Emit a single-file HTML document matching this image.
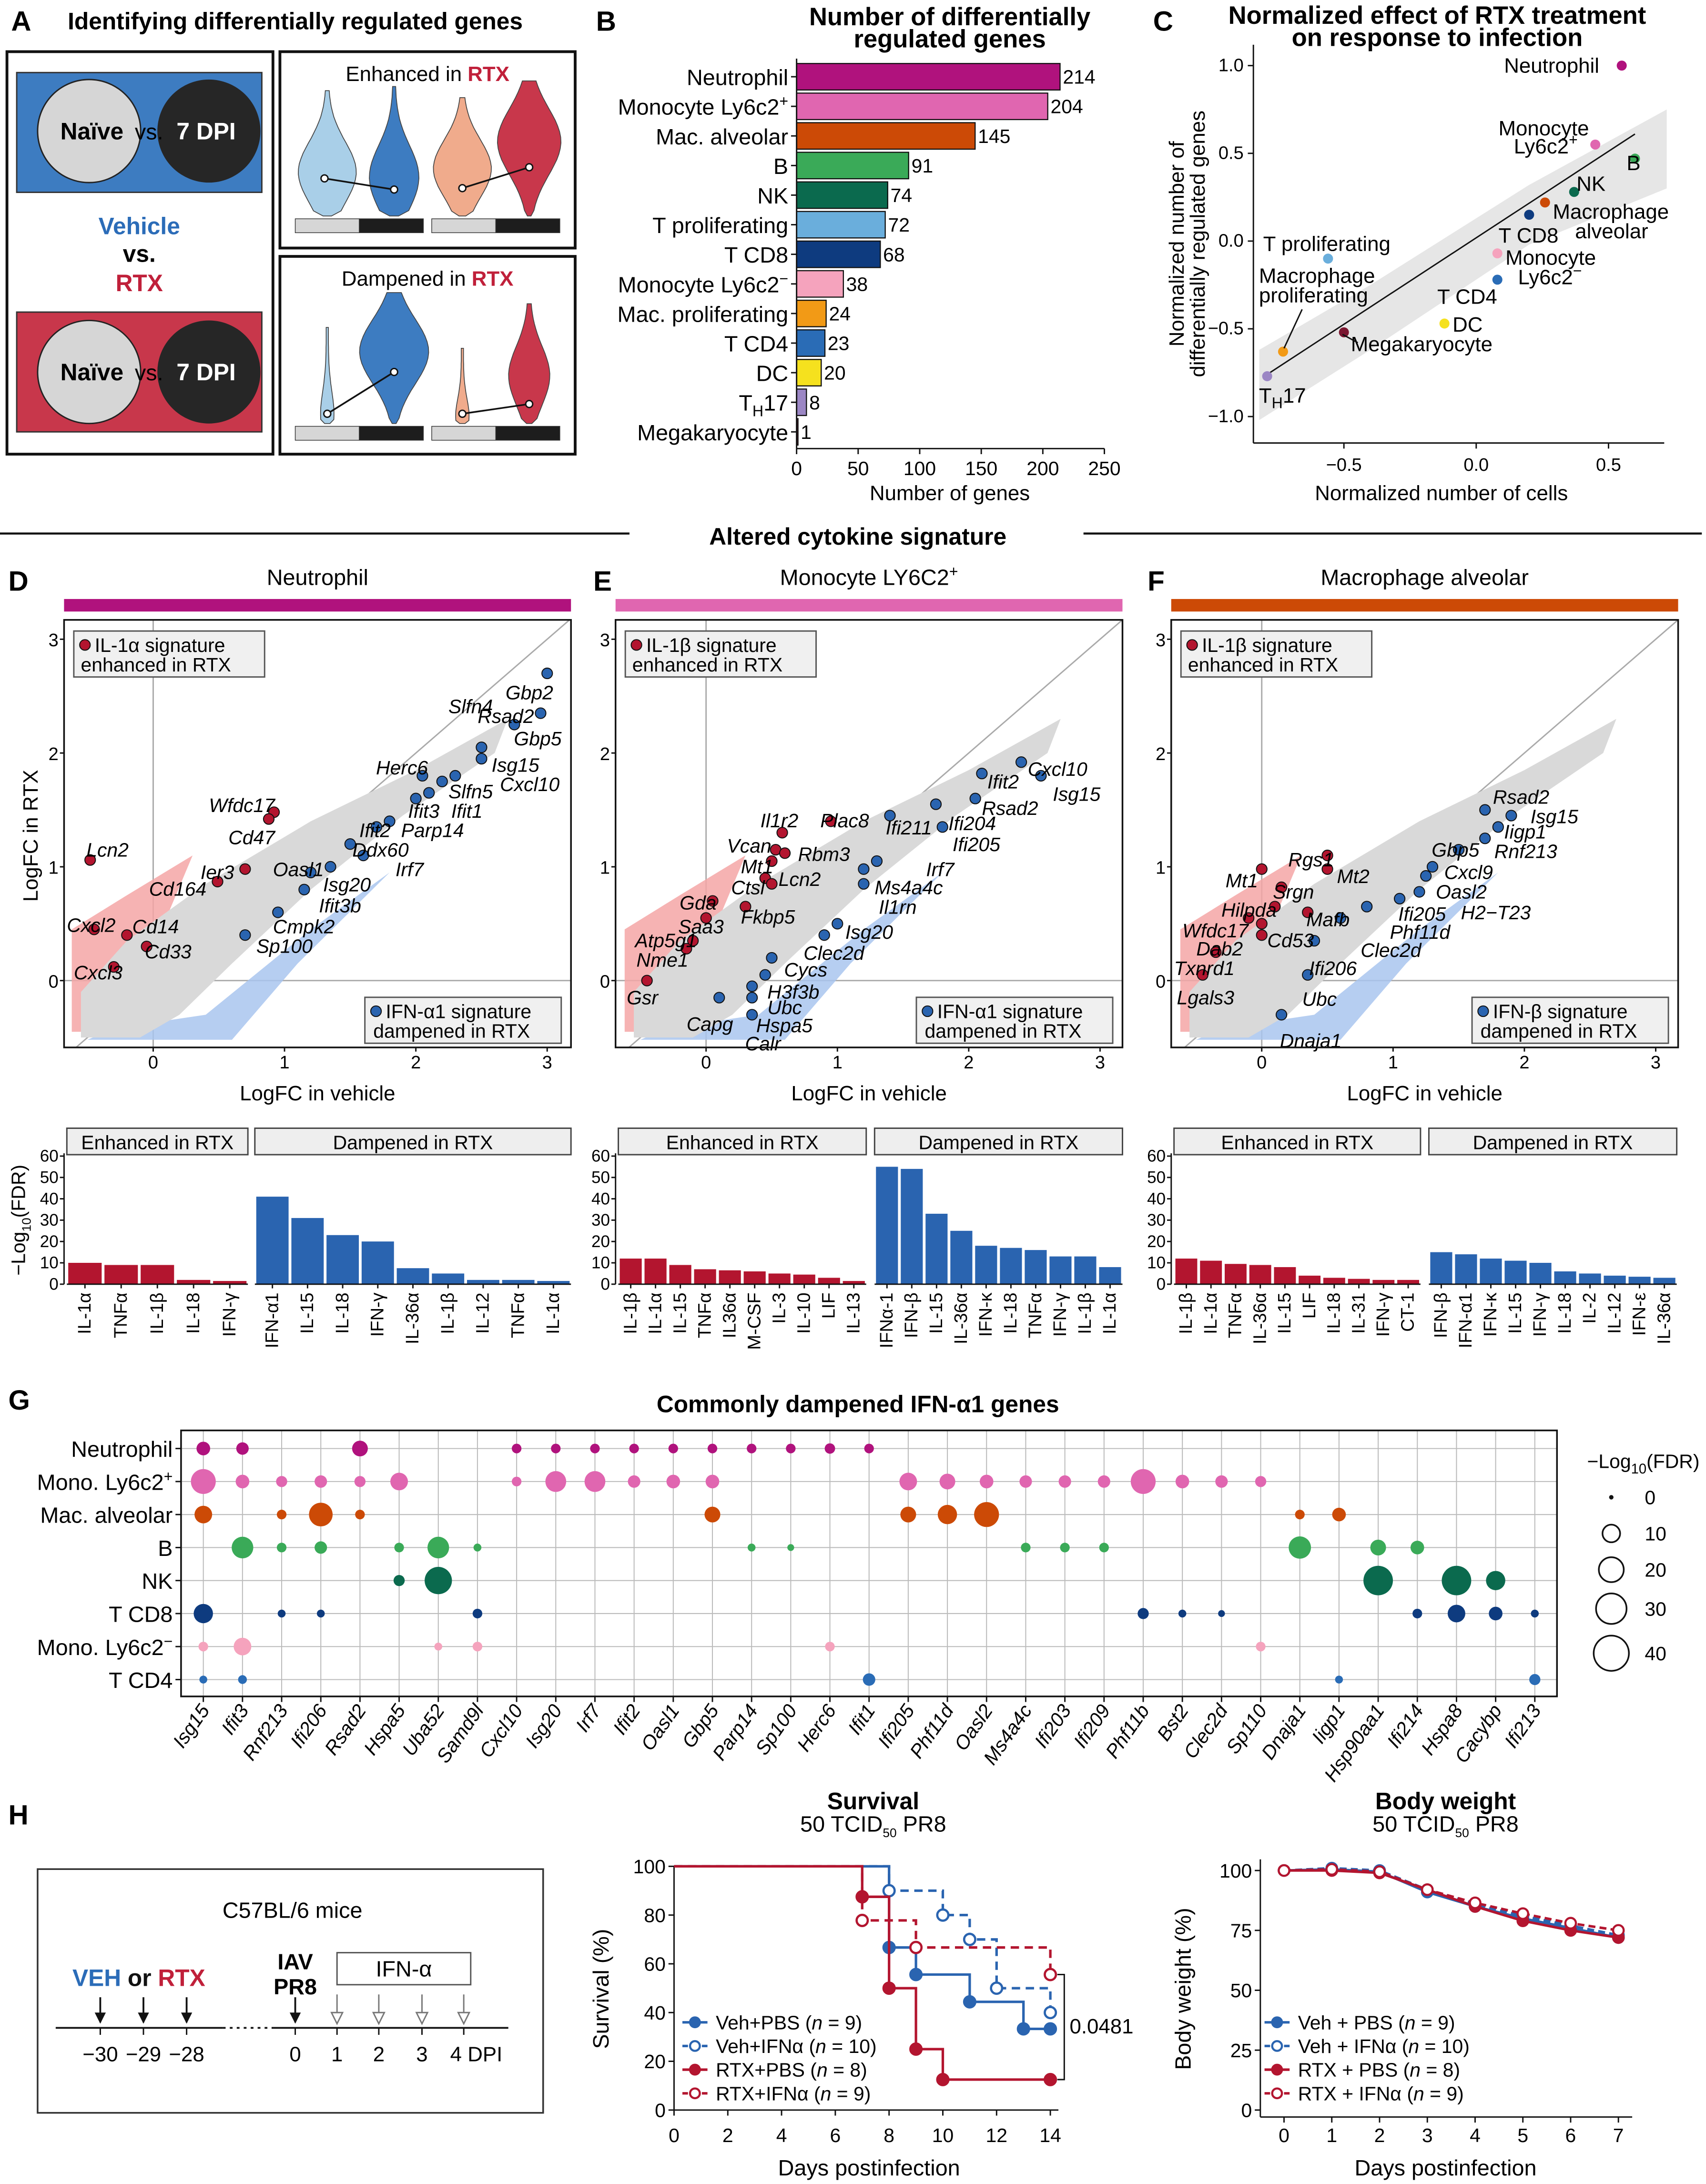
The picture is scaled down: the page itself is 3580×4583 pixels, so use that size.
<!DOCTYPE html>
<html><head><meta charset="utf-8"><style>
html,body{margin:0;padding:0;background:#fff}
svg{display:block}
text{font-family:"Liberation Sans",Arial,sans-serif}
</style></head><body>
<svg id="fig" xmlns="http://www.w3.org/2000/svg" width="3580" height="4583" viewBox="0 0 1225 1568">
<rect x="0" y="0" width="1225" height="1568" fill="#fff"/>
<g font-weight="bold" font-size="20">
<text x="8" y="22">A</text>
<text x="428" y="22">B</text>
<text x="828" y="22">C</text>
<text x="6" y="424">D</text>
<text x="426" y="424">E</text>
<text x="824" y="424">F</text>
<text x="6" y="1012">G</text>
<text x="6" y="1310">H</text>
</g>
<g>
<text x="212" y="21" font-size="17" font-weight="bold" text-anchor="middle">Identifying differentially regulated genes</text>
<rect x="5" y="37" width="191" height="289" fill="none" stroke="#111" stroke-width="2"/>
<rect x="12" y="52" width="176" height="86" fill="#3d7cc1" stroke="#333"/>
<circle cx="64" cy="94" r="37" fill="#d6d6d6" stroke="#222"/>
<circle cx="150" cy="94" r="37" fill="#262626"/>
<text x="66" y="100" font-size="17" font-weight="bold" text-anchor="middle">Naïve</text>
<text x="107" y="100" font-size="16" text-anchor="middle">vs.</text>
<text x="148" y="100" font-size="17" font-weight="bold" fill="#fff" text-anchor="middle">7 DPI</text>
<text x="100" y="168" font-size="17" font-weight="bold" fill="#2b6cb8" text-anchor="middle">Vehicle</text>
<text x="100" y="188" font-size="17" font-weight="bold" text-anchor="middle">vs.</text>
<text x="100" y="209" font-size="17" font-weight="bold" fill="#c0203a" text-anchor="middle">RTX</text>
<rect x="12" y="224" width="176" height="86" fill="#c8374b" stroke="#333"/>
<circle cx="64" cy="267" r="37" fill="#d6d6d6" stroke="#222"/>
<circle cx="150" cy="267" r="37" fill="#262626"/>
<text x="66" y="273" font-size="17" font-weight="bold" text-anchor="middle">Naïve</text>
<text x="107" y="273" font-size="16" text-anchor="middle">vs.</text>
<text x="148" y="273" font-size="17" font-weight="bold" fill="#fff" text-anchor="middle">7 DPI</text>
<rect x="201" y="37" width="212" height="141" fill="none" stroke="#111" stroke-width="2"/>
<rect x="201" y="184" width="212" height="142" fill="none" stroke="#111" stroke-width="2"/>
<text x="307" y="58" font-size="15" text-anchor="middle">Enhanced in <tspan fill="#c0203a" font-weight="bold">RTX</tspan></text>
<text x="307" y="205" font-size="15" text-anchor="middle">Dampened in <tspan fill="#c0203a" font-weight="bold">RTX</tspan></text>
<g id="violins"></g>
</g>
<g id="panelB">
<text x="682" y="18" font-size="18" font-weight="bold" text-anchor="middle">Number of differentially</text>
<text x="682" y="34" font-size="18" font-weight="bold" text-anchor="middle">regulated genes</text>
<text x="682" y="359" font-size="15" text-anchor="middle">Number of genes</text>
</g>
<g id="panelC">
<text x="1032" y="17" font-size="18" font-weight="bold" text-anchor="middle">Normalized effect of RTX treatment</text>
<text x="1032" y="33" font-size="18" font-weight="bold" text-anchor="middle">on response to infection</text>
<text transform="translate(850,175) rotate(-90)" font-size="15" text-anchor="middle">Normalized number of</text>
<text transform="translate(865,175) rotate(-90)" font-size="15" text-anchor="middle">differentially regulated genes</text>
<text x="1035" y="359" font-size="15" text-anchor="middle">Normalized number of cells</text>
</g>
<line x1="0" y1="383" x2="452" y2="383" stroke="#111" stroke-width="1.5"/>
<line x1="778" y1="383" x2="1222" y2="383" stroke="#111" stroke-width="1.5"/>
<text x="616" y="391" font-size="17" font-weight="bold" text-anchor="middle">Altered cytokine signature</text>
<g id="panelDEF"></g>
<g id="panelG">
<text x="616" y="1014" font-size="17" font-weight="bold" text-anchor="middle">Commonly dampened IFN-α1 genes</text>
<text x="1180" y="1054" font-size="14" text-anchor="middle">−Log<tspan font-size="10" dy="4">10</tspan><tspan dy="-4">(FDR)</tspan></text>
</g>
<g id="panelH">
<rect x="27" y="1342" width="363" height="175" fill="none" stroke="#333" stroke-width="1.2"/>
<text x="210" y="1377" font-size="16" text-anchor="middle">C57BL/6 mice</text>
<text x="52" y="1426" font-size="17" font-weight="bold"><tspan fill="#2b6cb8">VEH</tspan><tspan fill="#111"> or </tspan><tspan fill="#c0203a">RTX</tspan></text>
<text x="212" y="1414" font-size="16" font-weight="bold" text-anchor="middle">IAV</text>
<text x="212" y="1432" font-size="16" font-weight="bold" text-anchor="middle">PR8</text>
<rect x="242" y="1402" width="96" height="23" fill="#fff" stroke="#555"/>
<text x="290" y="1419" font-size="16" text-anchor="middle">IFN-α</text>
<line x1="40" y1="1456" x2="160" y2="1456" stroke="#111" stroke-width="1.3"/>
<line x1="160" y1="1456" x2="195" y2="1456" stroke="#111" stroke-width="1.3" stroke-dasharray="2,3"/>
<line x1="195" y1="1456" x2="365" y2="1456" stroke="#111" stroke-width="1.3"/>
<g id="timeline"></g>
<text x="627" y="1299" font-size="17" font-weight="bold" text-anchor="middle">Survival</text>
<text x="627" y="1315" font-size="16" text-anchor="middle">50 TCID<tspan font-size="9" dy="4">50</tspan><tspan dy="-4"> PR8</tspan></text>
<text x="1038" y="1299" font-size="17" font-weight="bold" text-anchor="middle">Body weight</text>
<text x="1038" y="1315" font-size="16" text-anchor="middle">50 TCID<tspan font-size="9" dy="4">50</tspan><tspan dy="-4"> PR8</tspan></text>
<text transform="translate(437,1428) rotate(-90)" font-size="16" text-anchor="middle">Survival (%)</text>
<text x="624" y="1562" font-size="16" text-anchor="middle">Days postinfection</text>
<text transform="translate(855,1428) rotate(-90)" font-size="16" text-anchor="middle">Body weight (%)</text>
<text x="1038" y="1562" font-size="16" text-anchor="middle">Days postinfection</text>
</g>
</svg>
<script>
const bCats=["Neutrophil","Monocyte Ly6c2+","Mac. alveolar","B","NK","T proliferating","T CD8","Monocyte Ly6c2−","Mac. proliferating","T CD4","DC","TH17","Megakaryocyte"];
const bVals=[214,204,145,91,74,72,68,38,24,23,20,8,1];
const bColors=["#b0127d","#e066b0","#cc4a06","#3aaa58","#0b6a4e","#6aaedc","#0e3b7f","#f5a3bd","#f29a16","#2a6cb6","#f5e11e","#9b86c4","#7a1630"];
const bTicks=[0,50,100,150,200,250];
const cNames=["Neutrophil","Monocyte Ly6c2+","B","NK","Macrophage alveolar","T CD8","T proliferating","Monocyte Ly6c2−","T CD4","DC","Megakaryocyte","Macrophage proliferating","TH17"];
const cX=[0.55,0.45,0.6,0.37,0.26,0.2,-0.56,0.08,0.08,-0.12,-0.5,-0.73,-0.79];
const cY=[1.0,0.55,0.47,0.28,0.22,0.15,-0.1,-0.07,-0.22,-0.47,-0.52,-0.63,-0.77];
const cColors=["#b0127d","#e066b0","#3aaa58","#0b6a4e","#cc4a06","#0e3b7f","#6aaedc","#f5a3bd","#2a6cb6","#f5e11e","#7a1630","#f29a16","#9b86c4"];
const cXTicks=[-0.5,0.0,0.5];
const cYTicks=[-1.0,-0.5,0.0,0.5,1.0];
const dRed=[["Wfdc17",0.92,1.48],["Cd47",0.88,1.42],["Ier3",0.7,0.98],["Cd164",0.49,0.87],["Lcn2",-0.48,1.06],["Cxcl2",-0.45,0.45],["Cd14",-0.2,0.4],["Cd33",-0.05,0.3],["Cxcl3",-0.3,0.12]];
const dBlue=[["Gbp2",3.0,2.7],["Rsad2",2.95,2.35],["Gbp5",2.75,2.25],["Slfn4",2.5,2.05],["Isg15",2.5,1.95],["Slfn5",2.3,1.8],["Cxcl10",2.2,1.75],["Herc6",2.05,1.8],["Ifit3",2.0,1.6],["Ifit1",2.1,1.65],["Parp14",1.8,1.4],["Ifit2",1.7,1.35],["Ddx60",1.5,1.2],["Irf7",1.6,1.1],["Oasl1",1.35,1.0],["Isg20",1.2,0.95],["Ifit3b",1.15,0.8],["Cmpk2",0.95,0.6],["Sp100",0.7,0.4]];
const eRed=[["Il1r2",0.58,1.3],["Plac8",0.95,1.4],["Vcan",0.53,1.15],["Rbm3",0.6,1.12],["Mt1",0.5,1.05],["Ctsl",0.45,0.9],["Lcn2",0.5,0.85],["Gda",0.05,0.7],["Fkbp5",0.3,0.65],["Saa3",0.0,0.55],["Atp5g1",-0.1,0.35],["Nme1",-0.15,0.28],["Gsr",-0.45,0.0]];
const eBlue=[["Cxcl10",2.4,1.92],["Ifit2",2.1,1.82],["Isg15",2.55,1.8],["Rsad2",2.05,1.6],["Ifi204",1.75,1.55],["Ifi211",1.4,1.45],["Ifi205",1.8,1.35],["Irf7",1.3,1.05],["Ms4a4c",1.2,0.98],["Il1rn",1.2,0.85],["Isg20",1.0,0.5],["Clec2d",0.9,0.4],["Cycs",0.5,0.2],["H3f3b",0.45,0.05],["Ubc",0.35,-0.05],["Hspa5",0.35,-0.15],["Capg",0.1,-0.15],["Calr",0.35,-0.3]];
const fRed=[["Rgs1",0.5,1.1],["Mt2",0.5,0.98],["Mt1",0.0,0.98],["Srgn",0.15,0.82],["Hilpda",0.1,0.65],["Mafb",0.35,0.6],["Cd53",0.0,0.5],["Wfdc17",-0.1,0.55],["Dab2",0.0,0.4],["Txnrd1",-0.35,0.25],["Lgals3",-0.45,0.05]];
const fBlue=[["Rsad2",1.7,1.5],["Isg15",1.9,1.45],["Iigp1",1.8,1.35],["Rnf213",1.7,1.25],["Gbp5",1.5,1.15],["Cxcl9",1.3,1.0],["Oasl2",1.25,0.92],["H2−T23",1.2,0.78],["Ifi205",1.05,0.72],["Phf11d",0.8,0.65],["Clec2d",0.6,0.55],["Ifi206",0.4,0.35],["Ubc",0.35,0.05],["Dnaja1",0.15,-0.3]];
const dLab={Gbp2:[363,497],Rsad2:[343,514],Gbp5:[369,530],Slfn4:[322,507],Isg15:[353,549],Slfn5:[322,568],Cxcl10:[359,563],Herc6:[270,551],Ifit3:[293,582],Ifit1:[324,582],Parp14:[288,596],Ifit2:[258,596],Ddx60:[253,610],Irf7:[284,624],Oasl1:[196,624],Isg20:[232,635],Ifit3b:[229,650],Cmpk2:[196,665],Sp100:[184,679],Wfdc17:[150,578],Cd47:[164,601],Ier3:[144,626],Cd164:[107,638],Lcn2:[62,610],Cxcl2:[48,664],Cd14:[95,665],Cd33:[104,683],Cxcl3:[53,698]};
const eLab={Cxcl10:[738,552],Ifit2:[709,561],Isg15:[756,570],Rsad2:[705,580],Ifi204:[681,591],Ifi211:[636,594],Ifi205:[684,606],Irf7:[665,624],Ms4a4c:[628,637],Il1rn:[631,651],Isg20:[607,669],Clec2d:[577,684],Cycs:[563,696],H3f3b:[551,712],Ubc:[551,723],Hspa5:[543,736],Capg:[493,735],Calr:[535,749],Il1r2:[546,589],Plac8:[589,589],Vcan:[522,607],Rbm3:[573,613],Mt1:[532,622],Ctsl:[525,637],Lcn2:[559,631],Gda:[488,648],Fkbp5:[532,658],Saa3:[487,665],Atp5g1:[456,675],Nme1:[457,689],Gsr:[450,716]};
const fLab={Rsad2:[1072,572],Isg15:[1099,586],Iigp1:[1080,597],Rnf213:[1073,611],Gbp5:[1028,610],Cxcl9:[1037,626],Oasl2:[1031,640],"H2−T23":[1049,655],Ifi205:[1004,656],Phf11d:[998,669],Clec2d:[977,682],Ifi206:[940,695],Ubc:[935,717],Dnaja1:[919,747],Rgs1:[925,617],Mt2:[960,629],Mt1:[880,632],Srgn:[914,640],Hilpda:[877,653],Mafb:[938,660],Wfdc17:[849,668],Cd53:[910,675],Dab2:[859,681],Txnrd1:[843,695],Lgals3:[845,716]};
const dEnhN=["IL-1α","TNFα","IL-1β","IL-18","IFN-γ"];
const dEnhV=[10,9,9,2,1.5];
const dDamN=["IFN-α1","IL-15","IL-18","IFN-γ","IL-36α","IL-1β","IL-12","TNFα","IL-1α"];
const dDamV=[41,31,23,20,7.5,5,2,2,1.5];
const eEnhN=["IL-1β","IL-1α","IL-15","TNFα","IL36α","M-CSF","IL-3","IL-10","LIF","IL-13"];
const eEnhV=[12,12,9,7,6.5,6,5,4.5,3,1.5];
const eDamN=["IFNα-1","IFN-β","IL-15","IL-36α","IFN-κ","IL-18","TNFα","IFN-γ","IL-1β","IL-1α"];
const eDamV=[55,54,33,25,18,17,16,13,13,8];
const fEnhN=["IL-1β","IL-1α","TNFα","IL-36α","IL-15","LIF","IL-18","IL-31","IFN-γ","CT-1"];
const fEnhV=[12,11,9.5,9,8,4,3,2.5,2,2];
const fDamN=["IFN-β","IFN-α1","IFN-κ","IL-15","IFN-γ","IL-18","IL-2","IL-12","IFN-ε","IL-36α"];
const fDamV=[15,14,12,11,10,6,5,4,3.5,3];
const cytTicks=[0,10,20,30,40,50,60];
const gGenes=["Isg15","Ifit3","Rnf213","Ifi206","Rsad2","Hspa5","Uba52","Samd9l","Cxcl10","Isg20","Irf7","Ifit2","Oasl1","Gbp5","Parp14","Sp100","Herc6","Ifit1","Ifi205","Phf11d","Oasl2","Ms4a4c","Ifi203","Ifi209","Phf11b","Bst2","Clec2d","Sp110","Dnaja1","Iigp1","Hsp90aa1","Ifi214","Hspa8","Cacybp","Ifi213"];
const gRows=["Neutrophil","Mono. Ly6c2+","Mac. alveolar","B","NK","T CD8","Mono. Ly6c2−","T CD4"];
const gColors=["#b0127d","#e066b0","#cc4a06","#3aaa58","#0b6a4e","#0e3b7f","#f5a3bd","#2a6cb6"];
const gNeut={Isg15:6,Ifit3:5,Rsad2:8,Cxcl10:3,Isg20:3,Irf7:3,Ifit2:3,Oasl1:3,Gbp5:3,Parp14:3,Sp100:3,Herc6:3.5,Ifit1:3};
const gMonoP={Isg15:20,Ifit3:6,Rnf213:4,Ifi206:5,Rsad2:4,Hspa5:10,Cxcl10:3,Isg20:14,Irf7:14,Ifit2:5,Oasl1:6,Gbp5:6,Ifi205:10,Phf11d:8,Oasl2:6,Ms4a4c:5,Ifi203:5,Ifi209:5,Phf11b:20,Bst2:6,Clec2d:5,Sp110:4};
const gMac={Isg15:10,Rnf213:3,Ifi206:18,Rsad2:3,Gbp5:8,Ifi205:8,Phf11d:12,Oasl2:20,Dnaja1:3,Iigp1:6};
const gB={Ifit3:15,Rnf213:3,Ifi206:5,Hspa5:3,Uba52:15,Samd9l:2,Parp14:2,Sp100:1.5,Ms4a4c:3,Ifi203:3,Ifi209:3,Dnaja1:16,Hsp90aa1:8,Ifi214:6};
const gNK={Hspa5:4,Uba52:24,Hsp90aa1:28,Hspa8:28,Cacybp:12};
const gCD8={Isg15:12,Rnf213:2,Ifi206:2,Samd9l:3,Phf11b:4,Bst2:2,Clec2d:1.5,Ifi214:3,Hspa8:10,Cacybp:6,Ifi213:2};
const gMonoN={Isg15:3,Ifit3:10,Uba52:2,Samd9l:3,Herc6:3,Sp110:3};
const gCD4={Isg15:2,Ifit3:2.5,Ifit1:5,Iigp1:2,Ifi213:4};
const gLegend=[0,10,20,30,40];
const survDays=[0,2,4,6,8,10,12,14];
const survTicksY=[0,20,40,60,80,100];
const vehPBS=[[0,100],[8,66.7],[9,55.6],[11,44.4],[13,33.3],[14,33.3]];
const vehIFN=[[0,100],[8,90],[10,80],[11,70],[12,50],[14,40]];
const rtxPBS=[[0,100],[7,87.5],[8,50],[9,25],[10,12.5],[14,12.5]];
const rtxIFN=[[0,100],[7,77.8],[9,66.7],[14,55.6]];
const wDays=[0,1,2,3,4,5,6,7];
const wVehPBS=[100,100.5,99.5,91,85,80,76,72];
const wVehIFN=[100,101,100,92,86,81,77,73];
const wRtxPBS=[100,100,99,92,85,79,75,72];
const wRtxIFN=[100,100.5,99.5,92,86.5,82,78,75];
const wTicksY=[0,25,50,75,100];

const NS="http://www.w3.org/2000/svg";
function mk(tag,attrs,parent){const e=document.createElementNS(NS,tag);for(const k in attrs)e.setAttribute(k,attrs[k]);parent.appendChild(e);return e;}
function tx(parent,x,y,s,size,extra){const e=mk('text',Object.assign({x:x,y:y,'font-size':size},extra||{}),parent);e.textContent=s;return e;}
function supLabel(s){if(s.endsWith('+')||s.endsWith('−'))return s.slice(0,-1)+'<tspan font-size="11" dy="-6">'+s.slice(-1)+'</tspan>';return s;}

(function(){
 const g=document.getElementById('violins');
 function violin(cx,top,bot,w,peak,fill){
  const pts=[];const n=24;
  for(let i=0;i<=n;i++){const t=i/n;const y=bot-(bot-top)*t;
   const d=(t-peak);const ww=w*Math.exp(-d*d/(2*0.06))*(t<0.02?0.3:1)+0.8;pts.push([cx+ww,y]);}
  let dd="M"+cx+","+bot;
  pts.forEach(p=>dd+=" L"+p[0].toFixed(1)+","+p[1].toFixed(1));
  for(let i=pts.length-1;i>=0;i--)dd+=" L"+(2*cx-pts[i][0]).toFixed(1)+","+pts[i][1].toFixed(1);
  const p=mk('path',{d:dd+"Z",fill:fill,stroke:"#444","stroke-width":0.6},g);
  
  
 }
 violin(235,65,155,20,0.35,"#a9cfe8");violin(283,62,155,17,0.3,"#3d7cc1");
 violin(332,70,155,20,0.4,"#f0ab8c");violin(380,58,155,22,0.55,"#c8374b");
 violin(235,235,304,4,0.1,"#a9cfe8");violin(283,210,304,24,0.55,"#3d7cc1");
 violin(332,250,304,4,0.1,"#f0ab8c");violin(380,218,304,14,0.4,"#c8374b");
 const lines=[[233,128,283,136],[332,135,380,120],[235,297,283,267],[332,297,380,290]];
 lines.forEach(l=>{const e=mk('line',{x1:l[0],y1:l[1],x2:l[2],y2:l[3],stroke:"#111","stroke-width":1.2},g);
  
  [[l[0],l[1]],[l[2],l[3]]].forEach(p=>{const c=mk('circle',{cx:p[0],cy:p[1],r:2.5,fill:"#fff",stroke:"#111"},g);});});
 [157,306].forEach(y=>{
  [[212,"#d6d6d6"],[258,"#1d1d1d"],[310,"#d6d6d6"],[356,"#1d1d1d"]].forEach(b=>{const r=mk('rect',{x:b[0],y:y,width:46,height:10,fill:b[1],stroke:"#333","stroke-width":0.5},g);});});
})();

(function(){
 const g=document.getElementById('panelB');
 const x0=572,sx=221/250,y0=55,step=21.25,h=19;
 const X=v=>x0+v*sx;
 bCats.forEach((c,i)=>{
  const y=y0+i*step;
  const r=mk('rect',{x:x0,y:y-h/2,width:Math.max(bVals[i]*sx,1),height:h,fill:bColors[i],stroke:"#111","stroke-width":0.8},g);
  
  
  const lab=mk('text',{x:566,y:y+6,'font-size':16,'text-anchor':'end'},g);
  if(c==="TH17")lab.innerHTML='T<tspan font-size="11" dy="4">H</tspan><tspan dy="-4">17</tspan>';
  else lab.innerHTML=supLabel(c);
  
  
  const tk=mk('line',{x1:568,x2:572,y1:y,y2:y,stroke:"#111"},g);
  
  
  const v=tx(g,X(bVals[i])+2,y+5,String(bVals[i]),14);
  
  
 });
 const ax=mk('line',{x1:x0,y1:42,x2:x0,y2:322,stroke:"#111"},g);
 const bx=mk('line',{x1:x0,y1:322,x2:X(250),y2:322,stroke:"#111"},g);
 bTicks.forEach(t=>{const l=mk('line',{x1:X(t),x2:X(t),y1:322,y2:326,stroke:"#111"},g);
  const e=tx(g,X(t),341,String(t),14,{'text-anchor':'middle'});});
})();

(function(){
 const g=document.getElementById('panelC');
 const X=v=>1060+v*190, Y=v=>173-v*126;
 const band=mk('path',{d:`M${X(-0.82)},${Y(-0.62)} L${X(-0.4)},${Y(-0.25)} L${X(0.2)},${Y(0.32)} L${X(0.72)},${Y(0.75)} L${X(0.72)},${Y(0.3)} L${X(0.2)},${Y(-0.02)} L${X(-0.4)},${Y(-0.62)} L${X(-0.82)},${Y(-1.02)} Z`,fill:"#e6e6e6"},g);
 
 const fl=mk('line',{x1:X(-0.79),y1:Y(-0.76),x2:X(0.6),y2:Y(0.61),stroke:"#111","stroke-width":1},g);
 
 const ya=mk('line',{x1:900,y1:32,x2:900,y2:318,stroke:"#111"},g);
 const xa=mk('line',{x1:900,y1:318,x2:1195,y2:318,stroke:"#111"},g);
 cYTicks.forEach(t=>{const l=mk('line',{x1:896,x2:900,y1:Y(t),y2:Y(t),stroke:"#111"},g);
  const e=tx(g,893,Y(t)+4,(t<0?'−':'')+Math.abs(t).toFixed(1),13,{'text-anchor':'end'});});
 cXTicks.forEach(t=>{const l=mk('line',{x1:X(t),x2:X(t),y1:318,y2:322,stroke:"#111"},g);
  const e=tx(g,X(t),338,(t<0?'−':'')+Math.abs(t).toFixed(1),13,{'text-anchor':'middle'});});
 cNames.forEach((n,i)=>{const c=mk('circle',{cx:X(cX[i]),cy:Y(cY[i]),r:3.6,fill:cColors[i]},g);
  });
 const labs=[["Neutrophil",1080,52],["Monocyte",1076,97],["Ly6c2+",1087,110],["B",1168,122],["NK",1132,137],["Macrophage",1115,157],["alveolar",1131,171],["T CD8",1076,174],["T proliferating",907,180],["Monocyte",1081,190],["Ly6c2−",1090,204],["Macrophage",904,203],["proliferating",904,217],["T CD4",1032,218],["DC",1043,238],["Megakaryocyte",970,252]];
 labs.forEach(l=>{const e=mk('text',{x:l[1],y:l[2],'font-size':15},g);e.innerHTML=supLabel(l[0]);});
 const th=mk('text',{x:904,y:289,'font-size':15},g);th.innerHTML='T<tspan font-size="11" dy="4">H</tspan><tspan dy="-4">17</tspan>';
 
 const pl=mk('line',{x1:935,y1:222,x2:922,y2:250,stroke:"#111"},g);
 const pl2=mk('line',{x1:964,y1:240,x2:975,y2:246,stroke:"#111"},g);
})();

function scatterPanel(cfg){
 const g=mk('g',{},document.getElementById('panelDEF'));
 
 
 const L=cfg.left,R=cfg.left+364,T=445,B=752;
 const X=v=>cfg.x0+v*94.3, Y=v=>704-v*81.7;
 const t=mk('text',{x:(L+R)/2,y:420,'font-size':16,'text-anchor':'middle'},g);
 t.innerHTML=cfg.sup?cfg.title+'<tspan font-size="11" dy="-6">+</tspan>':cfg.title;
 
 const cb=mk('rect',{x:L,y:430,width:364,height:9,fill:cfg.color},g);
 const clip='clip'+cfg.key;
 const cp=mk('clipPath',{id:clip},g);mk('rect',{x:L,y:T,width:364,height:B-T},cp);
 const pg=mk('g',{'clip-path':`url(#${clip})`},g);
 const vl=mk('line',{x1:X(0),x2:X(0),y1:T,y2:B,stroke:"#aaa"},pg);
 const hl=mk('line',{x1:L,x2:R,y1:Y(0),y2:Y(0),stroke:"#aaa"},pg);
 const dl=mk('line',{x1:X(-1),y1:Y(-1),x2:X(3.3),y2:Y(3.3),stroke:"#aaa"},pg);
 const pink=mk('path',{d:`M${X(-0.62)},${Y(-0.45)} L${X(-0.62)},${Y(0.45)} L${X(-0.2)},${Y(0.75)} L${X(0.3)},${Y(1.1)} L${X(0.1)},${Y(0.55)} L${X(-0.45)},${Y(0.0)} L${X(-0.5)},${Y(-0.45)} Z`,fill:"#f4a6a6",opacity:0.85},pg);
 
 const lb=mk('path',{d:`M${X(-0.5)},${Y(-0.52)} L${X(0.6)},${Y(-0.52)} L${X(1.1)},${Y(0.15)} L${X(1.8)},${Y(0.95)} L${X(1.2)},${Y(0.45)} L${X(0.4)},${Y(-0.3)} L${X(-0.3)},${Y(-0.42)} Z`,fill:"#a9c6ee",opacity:0.85},pg);
 
 const cl=mk('path',{d:`M${X(-0.55)},${Y(-0.5)} L${X(-0.55)},${Y(-0.1)} L${X(-0.2)},${Y(0.35)} L${X(0.4)},${Y(0.85)} L${X(1.2)},${Y(1.4)} L${X(2.0)},${Y(1.85)} L${X(2.7)},${Y(2.3)} L${X(2.6)},${Y(2.0)} L${X(1.9)},${Y(1.45)} L${X(1.2)},${Y(0.8)} L${X(0.6)},${Y(0.15)} L${X(0.2)},${Y(-0.3)} L${X(-0.1)},${Y(-0.5)} Z`,fill:"#d9d9d9"},pg);
 
 cfg.red.forEach(p=>{const c=mk('circle',{cx:X(p[1]),cy:Y(p[2]),r:3.8,fill:"#b3152f",stroke:"#111","stroke-width":0.7},pg);
  });
 cfg.blue.forEach(p=>{const c=mk('circle',{cx:X(p[1]),cy:Y(p[2]),r:3.8,fill:"#2a64b0",stroke:"#111","stroke-width":0.7},pg);
  });
 cfg.red.concat(cfg.blue).forEach(p=>{const pos=cfg.lab[p[0]];if(!pos)return;
  const e=tx(g,pos[0],pos[1]+5,p[0],14,{'font-style':'italic'});});
 const fr=mk('rect',{x:L,y:T,width:364,height:B-T,fill:"none",stroke:"#111","stroke-width":1.2},g);
 [0,1,2,3].forEach(v=>{const e=tx(g,X(v),767,String(v),13,{'text-anchor':'middle'});
  const l=mk('line',{x1:X(v),x2:X(v),y1:B,y2:B+3,stroke:"#111"},g);
  const e2=tx(g,L-4,Y(v)+5,String(v),13,{'text-anchor':'end'});
  const l2=mk('line',{x1:L-3,x2:L,y1:Y(v),y2:Y(v),stroke:"#111"},g);});
 const xt=tx(g,(L+R)/2,790,'LogFC in vehicle',15,{'text-anchor':'middle'});
 if(cfg.key==='d'){const yt=tx(g,0,0,'LogFC in RTX',15,{'text-anchor':'middle',transform:'translate(27,600) rotate(-90)'});}
 const lg1=mk('rect',{x:L+7,y:453,width:cfg.lw1,height:33,fill:"#f0f0f0",stroke:"#555"},g);
 const d1=mk('circle',{cx:L+15,cy:463,r:3.8,fill:"#b3152f",stroke:"#111","stroke-width":0.7},g);
 const t1=tx(g,L+22,468,cfg.sig1,14);
 const t1b=tx(g,L+12,482,'enhanced in RTX',14);
 const lg2=mk('rect',{x:R-148,y:716,width:141,height:33,fill:"#f0f0f0",stroke:"#555"},g);
 const d2=mk('circle',{cx:R-140,cy:726,r:3.8,fill:"#2a64b0",stroke:"#111","stroke-width":0.7},g);
 const t2=tx(g,R-133,731,cfg.sig2,14);
 const t2b=tx(g,R-142,745,'dampened in RTX',14);
 const Yb=v=>922-v*1.533;
 function group(x1,x2,names,vals,color,label){
  const s=mk('rect',{x:x1,y:810,width:x2-x1,height:19,fill:"#eeeeee",stroke:"#444"},g);
  const st=tx(g,(x1+x2)/2,825,label,14,{'text-anchor':'middle'});
  const bw=(x2-x1)/names.length;
  names.forEach((n,i)=>{const r=mk('rect',{x:x1+i*bw+1,y:Yb(vals[i]),width:bw-2,height:vals[i]*1.533,fill:color},g);
   
   const cx=x1+i*bw+bw/2;
   const tk=mk('line',{x1:cx,x2:cx,y1:922,y2:925,stroke:"#111"},g);
   const e=tx(g,0,0,n,13,{'text-anchor':'end',transform:`translate(${cx+4},928) rotate(-90)`});});
  const a=mk('line',{x1:x1,x2:x2,y1:922,y2:922,stroke:"#111"},g);
 }
 group(cfg.bx[0],cfg.bx[1],cfg.en,cfg.ev,"#b3152f","Enhanced in RTX");
 group(cfg.bx[2],cfg.bx[3],cfg.dn,cfg.dv,"#2a64b0","Dampened in RTX");
 const ya=mk('line',{x1:L,x2:L,y1:828,y2:922,stroke:"#111"},g);
 cytTicks.forEach(v=>{const e=tx(g,L-4,Yb(v)+4,String(v),12,{'text-anchor':'end'});
  const l=mk('line',{x1:L-3,x2:L,y1:Yb(v),y2:Yb(v),stroke:"#111"},g);});
 if(cfg.key==='d'){const yt=mk('text',{'font-size':14,'text-anchor':'middle',transform:'translate(18,876) rotate(-90)'},g);yt.innerHTML='−Log<tspan font-size="9" dy="4">10</tspan><tspan dy="-4">(FDR)</tspan>';}
}
scatterPanel({key:'d',left:46,x0:110,title:'Neutrophil',color:'#b0127d',red:dRed,blue:dBlue,lab:dLab,sig1:'IL-1α signature',sig2:'IFN-α1 signature',lw1:137,bx:[48,178,183,410],en:dEnhN,ev:dEnhV,dn:dDamN,dv:dDamV});
scatterPanel({key:'e',left:442,x0:507,title:'Monocyte LY6C2',sup:true,color:'#e066b0',red:eRed,blue:eBlue,lab:eLab,sig1:'IL-1β signature',sig2:'IFN-α1 signature',lw1:137,bx:[444,622,628,806],en:eEnhN,ev:eEnhV,dn:eDamN,dv:eDamV});
scatterPanel({key:'f',left:841,x0:906,title:'Macrophage alveolar',color:'#cc4a06',red:fRed,blue:fBlue,lab:fLab,sig1:'IL-1β signature',sig2:'IFN-β signature',lw1:137,bx:[843,1020,1026,1204],en:fEnhN,ev:fEnhV,dn:fDamN,dv:fDamV});

(function(){
 const g=document.getElementById('panelG');
 const L=130,R=1118,T=1027,B=1218;
 const cx=i=>146+i*28.12, cy=j=>1040+j*23.7, rad=v=>Math.max(Math.sqrt(v)*2,0.8);
 gGenes.forEach((n,i)=>{const l=mk('line',{x1:cx(i),x2:cx(i),y1:T,y2:B,stroke:"#bbb","stroke-width":0.7},g);
  const tk=mk('line',{x1:cx(i),x2:cx(i),y1:B,y2:B+4,stroke:"#111"},g);
  const e=tx(g,0,0,n,14,{'text-anchor':'end','font-style':'italic',transform:`translate(${cx(i)+5},${B+10}) rotate(-55)`});});
 const rows=[gNeut,gMonoP,gMac,gB,gNK,gCD8,gMonoN,gCD4];
 gRows.forEach((r,j)=>{const l=mk('line',{x1:L,x2:R,y1:cy(j),y2:cy(j),stroke:"#bbb","stroke-width":0.7},g);
  const e=mk('text',{x:L-6,y:cy(j)+6,'font-size':16,'text-anchor':'end'},g);e.innerHTML=supLabel(r);
  
  const tk=mk('line',{x1:L-4,x2:L,y1:cy(j),y2:cy(j),stroke:"#111"},g);});
 rows.forEach((row,j)=>{gGenes.forEach((n,i)=>{if(row[n]===undefined)return;
  const c=mk('circle',{cx:cx(i),cy:cy(j),r:rad(row[n]),fill:gColors[j]},g);
  });});
 const fr=mk('rect',{x:L,y:T,width:R-L,height:B-T,fill:"none",stroke:"#111","stroke-width":1.2},g);
 const ly=[1075,1101,1127,1155,1187];
 gLegend.forEach((v,i)=>{const c=mk('circle',{cx:1157,cy:ly[i],r:v===0?1:rad(v),fill:v===0?"#111":"#fff",stroke:"#111","stroke-width":1.2},g);
  
  const e=tx(g,1181,ly[i]+5,String(v),14);});
})();

(function(){
 const g=document.getElementById('timeline');
 [72,103,134,212].forEach(x=>{
  const l=mk('line',{x1:x,x2:x,y1:1434,y2:1452,stroke:'#111',"stroke-width":1.3},g);
  const p=mk('path',{d:`M${x-4},1445 L${x},1453 L${x+4},1445Z`,fill:'#111'},g);});
 [242,272,303,333].forEach(x=>{const l=mk('line',{x1:x,x2:x,y1:1432,y2:1445,stroke:'#777',"stroke-width":1},g);
  const p=mk('path',{d:`M${x-4},1445 L${x},1453 L${x+4},1445Z`,fill:'#fff',stroke:'#777'},g);});
 [["−30",72],["−29",103],["−28",134],["0",212],["1",242],["2",272],["3",303],["4 DPI",342]].forEach(t=>{const e=tx(g,t[1],1480,t[0],15,{'text-anchor':'middle'});
  const xx=t[0]==="4 DPI"?333:t[1];
  const tk=mk('line',{x1:xx,x2:xx,y1:1456,y2:1461,stroke:'#111'},g);});

 const h=document.getElementById('panelH');
 const SX=d=>484+d*19.3, SY=v=>1515-v*1.75;
 const ya=mk('line',{x1:484,x2:484,y1:1340,y2:1515,stroke:'#111'},h);
 const xa=mk('line',{x1:484,x2:760,y1:1515,y2:1515,stroke:'#111'},h);
 survTicksY.forEach(v=>{const e=tx(h,478,SY(v)+5,String(v),14,{'text-anchor':'end'});
  const l=mk('line',{x1:480,x2:484,y1:SY(v),y2:SY(v),stroke:'#111'},h);});
 survDays.forEach(d=>{const e=tx(h,SX(d),1538,String(d),14,{'text-anchor':'middle'});
  const l=mk('line',{x1:SX(d),x2:SX(d),y1:1515,y2:1519,stroke:'#111'},h);});
 function km(data,color,dash,open,name){
  let d=`M${SX(data[0][0])},${SY(data[0][1])}`;
  for(let i=1;i<data.length;i++){d+=` H${SX(data[i][0])} V${SY(data[i][1])}`;}
  const p=mk('path',{d:d,fill:'none',stroke:color,'stroke-width':1.8,'stroke-dasharray':dash},h);
  
  for(let i=1;i<data.length;i++){const c=mk('circle',{cx:SX(data[i][0]),cy:SY(data[i][1]),r:4,fill:open?'#fff':color,stroke:color,'stroke-width':1.6},h);
   }
 }
 km(vehPBS,'#2a64b0','none',false,'veh-pbs');km(vehIFN,'#2a64b0','6,4',true,'veh-ifn');
 km(rtxPBS,'#b3152f','none',false,'rtx-pbs');km(rtxIFN,'#b3152f','6,4',true,'rtx-ifn');
 const br=mk('path',{d:`M${SX(14)+5},${SY(55.6)} H${SX(14)+10} V${SY(12.5)} H${SX(14)+5}`,fill:'none',stroke:'#111'},h);
 const pv=tx(h,768,1460,'0.0481',15);
 function legend(x,y,items){items.forEach((it,i)=>{const yy=y+i*17;
  const l=mk('line',{x1:x,x2:x+18,y1:yy,y2:yy,stroke:it[1],'stroke-width':1.8,'stroke-dasharray':it[2]?'4,3':'none'},h);
  const c=mk('circle',{cx:x+9,cy:yy,r:3.5,fill:it[2]?'#fff':it[1],stroke:it[1],'stroke-width':1.5},h);
  const t=mk('text',{x:x+24,y:yy+5,'font-size':14},h);t.innerHTML=it[0];});}
 legend(490,1452,[["Veh+PBS (<tspan font-style='italic'>n</tspan> = 9)",'#2a64b0',false],["Veh+IFNα (<tspan font-style='italic'>n</tspan> = 10)",'#2a64b0',true],["RTX+PBS (<tspan font-style='italic'>n</tspan> = 8)",'#b3152f',false],["RTX+IFNα (<tspan font-style='italic'>n</tspan> = 9)",'#b3152f',true]]);
 const WX=d=>922+d*34.3, WY=v=>1515-v*1.72;
 const wy=mk('line',{x1:905,x2:905,y1:1335,y2:1520,stroke:'#111'},h);
 const wx=mk('line',{x1:905,x2:1172,y1:1520,y2:1520,stroke:'#111'},h);
 wTicksY.forEach(v=>{const e=tx(h,899,WY(v)+5,String(v),14,{'text-anchor':'end'});
  const l=mk('line',{x1:901,x2:905,y1:WY(v),y2:WY(v),stroke:'#111'},h);});
 wDays.forEach(d=>{const e=tx(h,WX(d),1538,String(d),14,{'text-anchor':'middle'});
  const l=mk('line',{x1:WX(d),x2:WX(d),y1:1520,y2:1524,stroke:'#111'},h);});
 function wline(vals,color,dash,open,name){
  const p=mk('polyline',{points:vals.map((v,i)=>WX(wDays[i])+','+WY(v)).join(' '),fill:'none',stroke:color,'stroke-width':1.8,'stroke-dasharray':dash},h);
  
  vals.forEach((v,i)=>{const c=mk('circle',{cx:WX(wDays[i]),cy:WY(v),r:3.8,fill:open?'#fff':color,stroke:color,'stroke-width':1.5},h);
   });
 }
 wline(wVehPBS,'#2a64b0','none',false,'veh-pbs');wline(wVehIFN,'#2a64b0','5,3',true,'veh-ifn');
 wline(wRtxPBS,'#b3152f','none',false,'rtx-pbs');wline(wRtxIFN,'#b3152f','5,3',true,'rtx-ifn');
 legend(908,1452,[["Veh + PBS (<tspan font-style='italic'>n</tspan> = 9)",'#2a64b0',false],["Veh + IFNα (<tspan font-style='italic'>n</tspan> = 10)",'#2a64b0',true],["RTX + PBS (<tspan font-style='italic'>n</tspan> = 8)",'#b3152f',false],["RTX + IFNα (<tspan font-style='italic'>n</tspan> = 9)",'#b3152f',true]]);
})();
</script>
</body></html>
